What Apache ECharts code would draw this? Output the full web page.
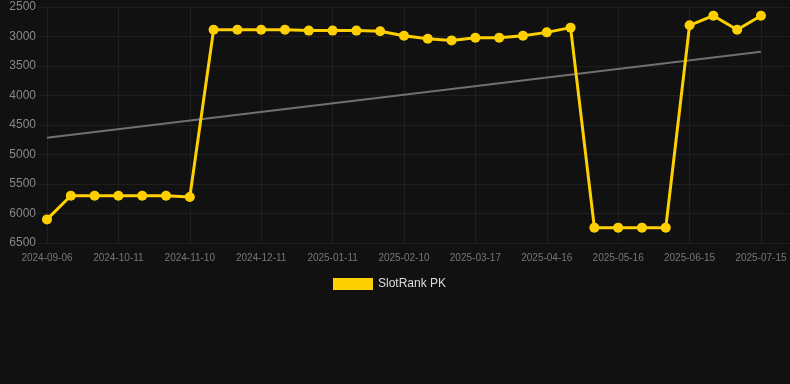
<!DOCTYPE html>
<html>
<head>
<meta charset="utf-8">
<script src="https://cdn.jsdelivr.net/npm/echarts@6/dist/echarts.min.js"></script>
<style>
html,body{margin:0;padding:0;background:#111111;}
#chart{width:790px;height:384px;}
</style>
</head>
<body>
<div id="chart"></div>
<script>
var dates = ["2024-09-06","2024-09-18","2024-09-30","2024-10-11","2024-10-21","2024-10-31","2024-11-10",
  "2024-11-20","2024-12-01","2024-12-11","2024-12-21","2024-12-31","2025-01-11","2025-01-21","2025-01-31",
  "2025-02-10","2025-02-22","2025-03-06","2025-03-17","2025-03-27","2025-04-06","2025-04-16","2025-04-26",
  "2025-05-06","2025-05-16","2025-05-26","2025-06-05","2025-06-15","2025-06-25","2025-07-05","2025-07-15"];
var rankValues = [6100,5700,5700,5700,5700,5700,5720,
  2885,2885,2885,2885,2900,2900,2900,2912,
  2986,3037,3066,3020,3020,2986,2930,2850,
  6240,6240,6240,6240,2810,2647,2885,2647];
var trendValues = [4715, 3257];
var labelIndices = [0,3,6,9,12,15,18,21,24,27,30];
var yTicks = [2500,3000,3500,4000,4500,5000,5500,6000,6500];
var seriesName = "SlotRank PK";

var chart = echarts.init(document.getElementById('chart'), null, {renderer:'canvas'});
var lineData = rankValues.map(function(v,i){return [i,v];});
var trendData = [[0,trendValues[0]],[dates.length-1,trendValues[1]]];
chart.setOption({
  backgroundColor:'#111111',
  animation:false,
  grid:{left:38,right:0,top:7,bottom:141,containLabel:false},
  legend:{
    data:[seriesName],
    top:273,
    left:328,
    itemWidth:40,
    itemHeight:12,
    icon:'rect',
    textStyle:{color:'#dddddd',fontSize:12,fontFamily:'Arial, Liberation Sans, sans-serif'}
  },
  xAxis:{
    type:'value',
    min:-0.378,
    max:31.22,
    axisLine:{show:false},
    axisTick:{show:false,customValues:labelIndices},
    splitLine:{show:true,lineStyle:{color:'#1f1f1f',width:1}},
    axisLabel:{
      customValues:labelIndices,
      color:'#777777',fontSize:10,margin:10,
      fontFamily:'Arial, Liberation Sans, sans-serif',
      formatter:function(v){return dates[Math.round(v)]||'';}
    }
  },
  yAxis:{
    type:'value',
    inverse:true,
    min:yTicks[0],
    max:yTicks[yTicks.length-1],
    interval:yTicks[1]-yTicks[0],
    axisLine:{show:false},
    axisTick:{show:false},
    splitLine:{show:true,lineStyle:{color:'#1f1f1f',width:1}},
    axisLabel:{color:'#888888',fontSize:12,margin:2,fontFamily:'Arial, Liberation Sans, sans-serif',
      formatter:function(v){return String(v);}}
  },
  series:[
    {
      name:'trend',
      type:'line',
      data:trendData,
      symbol:'none',
      lineStyle:{color:'#707070',width:2},
      silent:true,
      z:1
    },
    {
      name:seriesName,
      type:'line',
      data:lineData,
      symbol:'circle',
      symbolSize:10,
      itemStyle:{color:'#ffd000'},
      lineStyle:{color:'#ffd000',width:3},
      z:3
    }
  ]
});
</script>
</body>
</html>
